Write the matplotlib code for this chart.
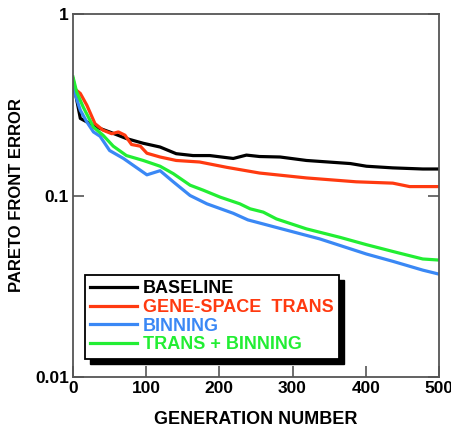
import matplotlib
matplotlib.use("Agg")
import matplotlib.pyplot as plt
from matplotlib.patches import Rectangle

plt.rcParams['font.family'] = ['Liberation Sans', 'DejaVu Sans']

gen_baseline = [0, 10, 32, 50, 73, 96, 119, 141, 164, 187, 219, 237, 255, 283, 319, 379, 401, 437, 478, 500]
baseline = [0.43, 0.266, 0.238, 0.224, 0.206, 0.194, 0.185, 0.170, 0.166, 0.166, 0.160, 0.167, 0.164,
            0.163, 0.156, 0.150, 0.145, 0.142, 0.140, 0.140]

gen_trans = [0, 3, 10, 19, 30, 41, 53, 62, 71, 80, 92, 101, 119, 141, 173, 210, 255, 319, 387, 437, 460, 500]
trans = [0.44, 0.385, 0.365, 0.314, 0.249, 0.229, 0.219, 0.224, 0.215, 0.191, 0.187, 0.171, 0.163,
         0.156, 0.153, 0.143, 0.133, 0.125, 0.119, 0.117, 0.112, 0.112]

gen_binning = [0, 2, 10, 19, 28, 37, 50, 69, 82, 101, 119, 137, 160, 183, 219, 239, 273, 337, 401, 437, 478, 500]
binning = [0.40, 0.372, 0.295, 0.254, 0.224, 0.212, 0.177, 0.160, 0.147, 0.130, 0.137, 0.119, 0.100,
           0.090, 0.0798, 0.0734, 0.0675, 0.0577, 0.0476, 0.0434, 0.0388, 0.0369]

gen_both = [0, 5, 14, 28, 41, 55, 73, 96, 119, 137, 160, 178, 201, 228, 242, 260, 278, 319, 365, 401, 442, 478, 500]
both = [0.45, 0.372, 0.307, 0.238, 0.215, 0.187, 0.166, 0.156, 0.145, 0.132, 0.114, 0.107, 0.098,
        0.090, 0.0845, 0.081, 0.0743, 0.0655, 0.0588, 0.0536, 0.0486, 0.0447, 0.0441]

labels = ["BASELINE", "GENE-SPACE  TRANS", "BINNING", "TRANS + BINNING"]
colors = ["#000000", "#ff3a10", "#3a88f5", "#22ee33"]

x_ticks = [0, 100, 200, 300, 400, 500]
y_ticks = [0.01, 0.1, 1]
y_tick_labels = ["0.01", "0.1", "1"]

fig = plt.figure(figsize=(4.52, 4.34), dpi=100)
fig.patch.set_facecolor('white')
ax = fig.add_axes([0.1615, 0.1313, 0.8095, 0.8364])
ax.set_zorder(1)
ax.patch.set_alpha(0)

series = [(gen_baseline, baseline), (gen_trans, trans), (gen_binning, binning), (gen_both, both)]
for (g, v), lab, c in zip(series, labels, colors):
    ax.plot(g, v, color=c, lw=2.3, label=lab, solid_joinstyle='round')

ax.set_yscale('log')
ax.set_xlim(0, 500)
ax.set_ylim(0.01, 1)
ax.set_xticks(x_ticks)
ax.set_xticklabels([str(t) for t in x_ticks], fontsize=12.5, fontweight='bold')
ax.set_yticks(y_ticks)
ax.set_yticklabels(y_tick_labels, fontsize=12.5, fontweight='bold')
ax.yaxis.set_minor_locator(matplotlib.ticker.NullLocator())
ax.tick_params(direction='in', length=8, width=1.2, color='#555555', top=False, right=True, pad=3)
for s in ax.spines.values():
    s.set_color('#555555')
    s.set_linewidth(1.3)

ax.set_xlabel("GENERATION NUMBER", fontsize=13, fontweight='bold', labelpad=11)
ax.set_ylabel("PARETO FRONT ERROR", fontsize=12, fontweight='bold', labelpad=8)

leg = ax.legend(loc='lower left', bbox_to_anchor=(0.033, 0.05), borderaxespad=0,
                fancybox=False, frameon=True, handlelength=2.6, handletextpad=0.3,
                labelspacing=0.1, borderpad=0.3, prop={'size': 13, 'weight': 'bold'})
frame = leg.get_frame()
frame.set_edgecolor('black')
frame.set_facecolor('white')
frame.set_linewidth(1.3)
frame.set_alpha(1)
for t, c in zip(leg.get_texts(), colors):
    t.set_color(c)
leg.set_zorder(5)

fig.canvas.draw()
bb = frame.get_window_extent(fig.canvas.get_renderer())
fx0, fy0 = bb.x0 / fig.bbox.width, bb.y0 / fig.bbox.height
fw, fh = bb.width / fig.bbox.width, bb.height / fig.bbox.height
ddx, ddy = 5.0 / fig.bbox.width, 5.0 / fig.bbox.height
fig.patches.append(Rectangle((fx0 + ddx, fy0 - ddy), fw, fh, transform=fig.transFigure,
                             facecolor='black', edgecolor='black', figure=fig, zorder=0.5))

fig.savefig("out.png", dpi=100, facecolor='white')
